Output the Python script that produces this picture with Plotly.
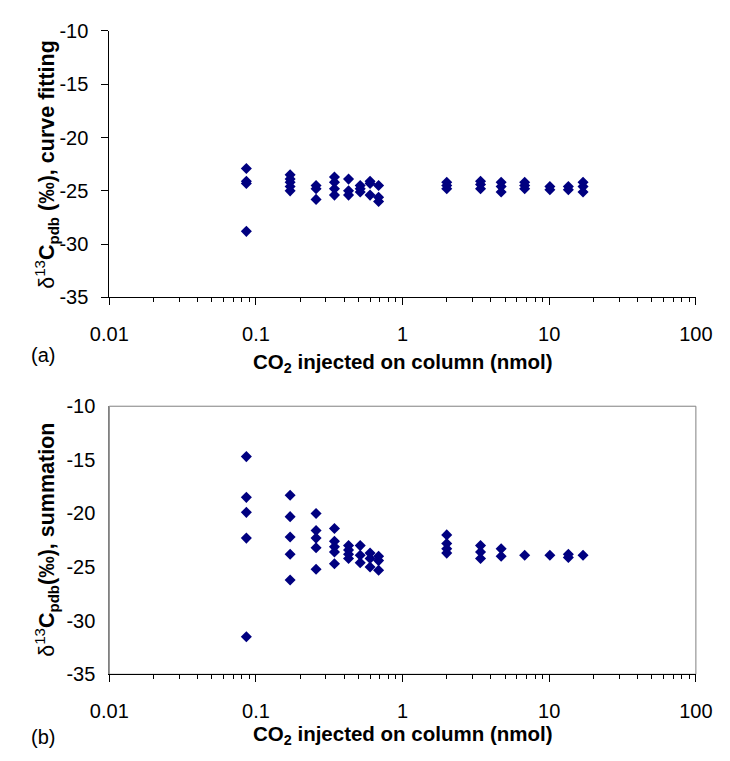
import plotly.graph_objects as go

# x positions (nmol CO2 injected on column)
x_nmol = [0.086, 0.171, 0.257, 0.343, 0.428, 0.514, 0.600, 0.686,
          2.0, 3.4, 4.7, 6.8, 10.1, 13.5, 17.0]

# (a) curve fitting: delta13C values per injection amount
d13c_curve_fit = [
    [-22.9, -24.1, -24.3, -28.8],
    [-23.5, -23.9, -24.2, -24.6, -25.0],
    [-24.5, -24.8, -25.8],
    [-23.7, -24.2, -24.8, -25.4],
    [-23.9, -25.0, -25.4],
    [-24.5, -24.8, -25.1],
    [-24.1, -24.3, -25.4],
    [-24.5, -25.6, -26.0],
    [-24.2, -24.5, -24.8],
    [-24.1, -24.4, -24.8],
    [-24.2, -24.6, -25.1],
    [-24.2, -24.5, -24.8],
    [-24.6, -24.9],
    [-24.6, -24.9],
    [-24.2, -24.6, -25.1],
]

# (b) summation
d13c_summation = [
    [-14.7, -18.5, -19.9, -22.3, -31.5],
    [-18.3, -20.3, -22.2, -23.8, -26.2],
    [-20.0, -21.6, -22.3, -23.2, -25.2],
    [-21.4, -22.6, -23.1, -23.6, -24.7],
    [-23.0, -23.4, -23.8, -24.2],
    [-23.0, -23.9, -24.6],
    [-23.7, -24.2, -25.0],
    [-24.0, -24.4, -25.3],
    [-22.0, -22.8, -23.3, -23.7],
    [-23.0, -23.6, -24.2],
    [-23.3, -24.0],
    [-23.9],
    [-23.9],
    [-23.8, -24.1],
    [-23.9],
]

x_tickvals = [0.01, 0.1, 1, 10, 100]
x_ticktext = ["0.01", "0.1", "1", "10", "100"]
y_tickvals = [-10, -15, -20, -25, -30, -35]
y_ticktext = ["-10", "-15", "-20", "-25", "-30", "-35"]


def flatten(xs, groups):
    fx, fy = [], []
    for x, ys in zip(xs, groups):
        for y in ys:
            fx.append(x)
            fy.append(y)
    return fx, fy


W, H = 730, 761
FONT = "Liberation Sans, Arial, sans-serif"
NAVY = "#000080"

xd = [95 / W, 712 / W]
top_dom = [(H - 295) / H, (H - 20.5) / H]
bot_dom = [(H - 683) / H, (H - 407) / H]

fig = go.Figure()
xa, ya = flatten(x_nmol, d13c_curve_fit)
xb, yb = flatten(x_nmol, d13c_summation)
marker = dict(symbol="diamond", size=8.5, color=NAVY, line=dict(width=0))
fig.add_trace(go.Scatter(x=xa, y=ya, mode="markers", marker=marker,
                         xaxis="x", yaxis="y", showlegend=False))
fig.add_trace(go.Scatter(x=xb, y=yb, mode="markers", marker=marker,
                         xaxis="x2", yaxis="y2", showlegend=False))

minor_vals = [m * 10 ** e for e in (-2, -1, 0, 1) for m in range(2, 10)]

tickfont = dict(family=FONT, size=20, color="black")
xcommon = dict(type="log", range=[-2, 2], tickmode="array",
               tickvals=x_tickvals, ticktext=x_ticktext,
               ticks="outside", ticklen=7, tickcolor="black", tickwidth=1,
               showline=True, linecolor="black", linewidth=1,
               showgrid=False, zeroline=False, tickfont=tickfont,
               ticklabelstandoff=12,
               minor=dict(tickmode="array", tickvals=minor_vals, ticks="outside",
                          ticklen=4, tickcolor="black", showgrid=False),
               domain=xd)
ycommon = dict(range=[-35, -10], tickmode="array", tickvals=y_tickvals,
               ticktext=y_ticktext, ticklen=7, tickcolor="black",
               showline=True, linewidth=1,
               showgrid=False, zeroline=False, tickfont=tickfont,
               ticklabelstandoff=9)

fig.update_layout(
    width=W, height=H, autosize=False,
    margin=dict(l=0, r=0, t=0, b=0),
    paper_bgcolor="white", plot_bgcolor="white",
    xaxis=dict(**xcommon, anchor="y"),
    yaxis=dict(**ycommon, domain=top_dom, anchor="x", ticks="outside",
               linecolor="black"),
    xaxis2=dict(**xcommon, anchor="y2"),
    yaxis2=dict(**ycommon, domain=bot_dom, anchor="x2", ticks="",
                linecolor="#808080"),
)

# gray frame around the lower plot area
fig.add_shape(type="rect", xref="paper", yref="paper",
              x0=xd[0], x1=xd[1], y0=bot_dom[0], y1=bot_dom[1],
              line=dict(color="#808080", width=1), layer="below")

xtitle_font = dict(family=FONT, size=20.5, color="black")
ytitle_font = dict(family=FONT, size=21.5, color="black")
ann = [
    dict(text="δ<sup>13</sup><b>C<sub>pdb</sub> (‰), curve fitting</b>",
         x=29 / W, y=(top_dom[0] + top_dom[1]) / 2, textangle=-90, font=ytitle_font),
    dict(text="δ<sup>13</sup><b>C<sub>pdb</sub>(‰), summation</b>",
         x=29 / W, y=(bot_dom[0] + bot_dom[1]) / 2, textangle=-90, font=ytitle_font),
    dict(text="<b>CO<sub>2</sub> injected on column (nmol)</b>",
         x=403.5 / W, y=(H - 362) / H, font=xtitle_font),
    dict(text="<b>CO<sub>2</sub> injected on column (nmol)</b>",
         x=403.5 / W, y=(H - 746) / H, font=xtitle_font),
]
for a in ann:
    fig.add_annotation(xref="paper", yref="paper", showarrow=False,
                       xanchor="center", yanchor="middle", **a)
for lbl, yy in (("(a)", 354), ("(b)", 748)):
    fig.add_annotation(text=lbl, xref="paper", yref="paper", showarrow=False,
                       x=11 / W, y=(H - yy) / H, xanchor="left", yanchor="middle",
                       font=dict(family=FONT, size=20, color="black"))

fig.write_html("out.html")
